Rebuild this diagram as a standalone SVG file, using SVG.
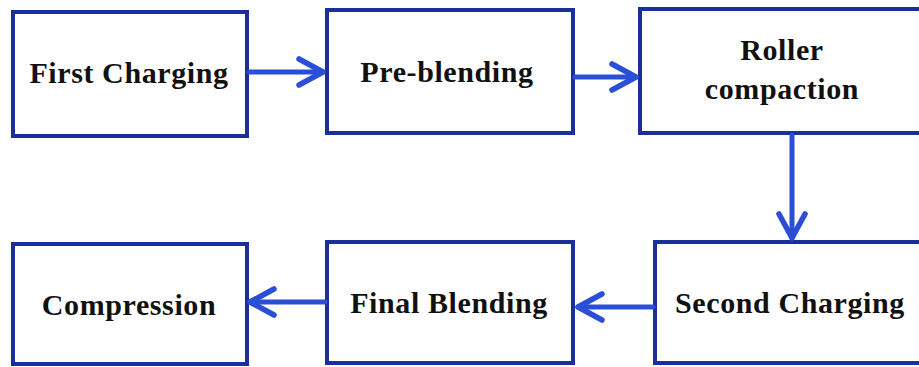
<svg xmlns="http://www.w3.org/2000/svg" width="919" height="367" viewBox="0 0 919 367">
<style>
.box{fill:#fff;stroke:#1a2f9c;stroke-width:4}
.lbl{font-family:"Liberation Serif","Times New Roman",serif;font-weight:bold;font-size:30px;letter-spacing:0.6px;fill:#111;text-anchor:middle}
.conn{stroke:#2a4fd6;stroke-width:5;fill:none;stroke-linecap:round;stroke-linejoin:round}
</style>
<defs>
<marker id="ah" viewBox="0 0 32 32" refX="28" refY="16" markerWidth="32" markerHeight="32" markerUnits="userSpaceOnUse" orient="auto">
<path d="M4,3 L28,16 L4,29" fill="none" stroke="#2a4fd6" stroke-width="5.5" stroke-linecap="round" stroke-linejoin="round"/>
</marker>
</defs>
<rect width="919" height="367" fill="#fff"/>
<g id="n1"><rect class="box" x="13" y="12" width="234" height="124"/><text class="lbl" x="129" y="83">First Charging</text></g>
<g id="n2"><rect class="box" x="327" y="10" width="246" height="123"/><text class="lbl" x="447" y="82">Pre-blending</text></g>
<g id="n3"><rect class="box" x="640" y="9" width="290" height="124"/><text class="lbl" x="782" y="60">Roller</text><text class="lbl" x="782" y="99">compaction</text></g>
<g id="n4"><rect class="box" x="655" y="242" width="280" height="121"/><text class="lbl" x="790" y="313">Second Charging</text></g>
<g id="n5"><rect class="box" x="327" y="242" width="246" height="121"/><text class="lbl" x="449" y="313">Final Blending</text></g>
<g id="n6"><rect class="box" x="13" y="244" width="234" height="120"/><text class="lbl" x="129" y="315">Compression</text></g>
<g id="connectors">
<line class="conn" x1="249" y1="72" x2="323" y2="72" marker-end="url(#ah)"/>
<line class="conn" x1="575" y1="77" x2="636" y2="77" marker-end="url(#ah)"/>
<line class="conn" x1="792" y1="135" x2="792" y2="238" marker-end="url(#ah)"/>
<line class="conn" x1="653" y1="307" x2="578" y2="307" marker-end="url(#ah)"/>
<line class="conn" x1="325" y1="302" x2="250" y2="302" marker-end="url(#ah)"/>
</g>
</svg>
